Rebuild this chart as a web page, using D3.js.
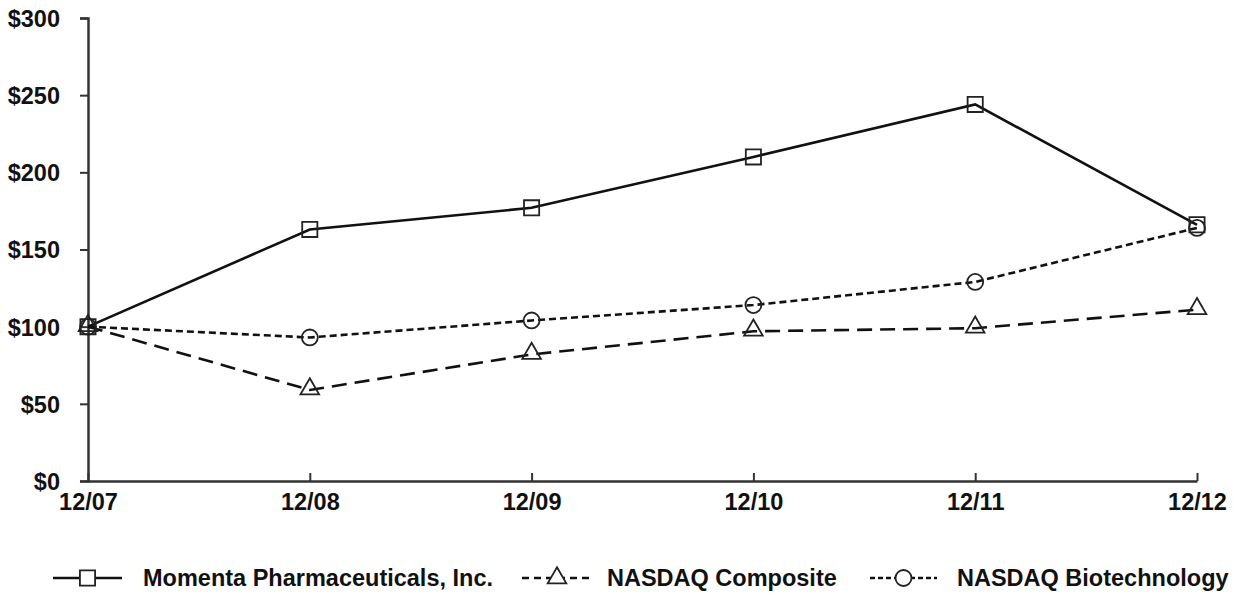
<!DOCTYPE html>
<html>
<head>
<meta charset="utf-8">
<script src="https://cdn.jsdelivr.net/npm/d3@7"></script>
<style>
  body { margin: 0; background: #fff; }
  text { font-family: "Liberation Sans", Arial, sans-serif; font-weight: bold; fill: #111; }
</style>
</head>
<body>
<svg id="chart" width="1239" height="594"></svg>
<script>
// chart data
var periods = ["12/07", "12/08", "12/09", "12/10", "12/11", "12/12"];
var momenta = [100, 163, 177, 210, 244, 166];
var composite = [100, 59, 82, 97, 99, 111];
var biotech = [100, 93, 104, 114, 129, 164];
var yTicks = [0, 50, 100, 150, 200, 250, 300];

var seriesNames = ["Momenta Pharmaceuticals, Inc.", "NASDAQ Composite", "NASDAQ Biotechnology"];

var svg = d3.select("#chart");

var x = d3.scalePoint().domain(periods).range([88, 1197]);
var y = d3.scaleLinear().domain([0, 300]).range([481, 18]);

// y axis
var yAxis = svg.append("g")
  .attr("transform", "translate(88,0)")
  .call(d3.axisLeft(y).tickValues(yTicks).tickSize(8).tickPadding(20).tickFormat(function(d) { return "$" + d; }));
yAxis.select(".domain").attr("stroke", "#333").attr("stroke-width", 2.5);
yAxis.selectAll(".tick line").attr("stroke", "#333").attr("stroke-width", 2);
yAxis.selectAll(".tick text").style("font-size", "23.5px").attr("dy", "0.36em");

// x axis, ticks point inward
var xAxis = svg.append("g")
  .attr("transform", "translate(0,481)")
  .call(d3.axisBottom(x).tickSize(-8).tickSizeOuter(0).tickPadding(14));
xAxis.select(".domain").attr("stroke", "#333").attr("stroke-width", 2.5);
xAxis.selectAll(".tick line").attr("stroke", "#333").attr("stroke-width", 2);
xAxis.selectAll(".tick text").style("font-size", "23.5px").attr("dy", "0.71em").attr("y", 12);

var series = [
  { name: seriesNames[0], values: momenta, dash: null, marker: "square" },
  { name: seriesNames[1], values: composite, dash: "15,8", marker: "triangle" },
  { name: seriesNames[2], values: biotech, dash: "7,4", marker: "circle" }
];

var line = d3.line()
  .x(function(d, i) { return x(periods[i]); })
  .y(function(d) { return y(d); });

var symbolFor = {
  square: d3.symbol().type(d3.symbolSquare).size(230),
  triangle: d3.symbol().type(d3.symbolTriangle).size(150),
  circle: d3.symbol().type(d3.symbolCircle).size(200)
};

series.forEach(function(s) {
  svg.append("path")
    .datum(s.values)
    .attr("d", line)
    .attr("fill", "none")
    .attr("stroke", "#111")
    .attr("stroke-width", 2.6)
    .attr("stroke-dasharray", s.dash);

  svg.selectAll(null)
    .data(s.values)
    .enter().append("path")
    .attr("d", symbolFor[s.marker])
    .attr("transform", function(d, i) {
      return "translate(" + x(periods[i]) + "," + (y(d) + (s.marker === "triangle" ? -1 : 0)) + ")";
    })
    .attr("fill", "none")
    .attr("stroke", "#222")
    .attr("stroke-width", 1.8);
});

// legend
var legendItems = [
  { s: series[0], x0: 53, x1: 122, tx: 143 },
  { s: series[1], x0: 522, x1: 592, tx: 607 },
  { s: series[2], x0: 870, x1: 937, tx: 957 }
];
var ly = 578;
legendItems.forEach(function(it) {
  svg.append("line")
    .attr("x1", it.x0).attr("x2", it.x1)
    .attr("y1", ly).attr("y2", ly)
    .attr("stroke", "#111").attr("stroke-width", 2.5)
    .attr("stroke-dasharray", it.s.marker === "circle" ? "5,3" : (it.s.dash ? "7,5" : null));
  svg.append("path")
    .attr("d", symbolFor[it.s.marker])
    .attr("transform", "translate(" + ((it.x0 + it.x1) / 2) + "," + ly + ")")
    .attr("fill", "#fff")
    .attr("stroke", "#222")
    .attr("stroke-width", 1.8);
  svg.append("text")
    .attr("x", it.tx).attr("y", ly)
    .attr("dy", "0.36em")
    .style("font-size", "23.5px")
    .text(it.s.name);
});
</script>
</body>
</html>
